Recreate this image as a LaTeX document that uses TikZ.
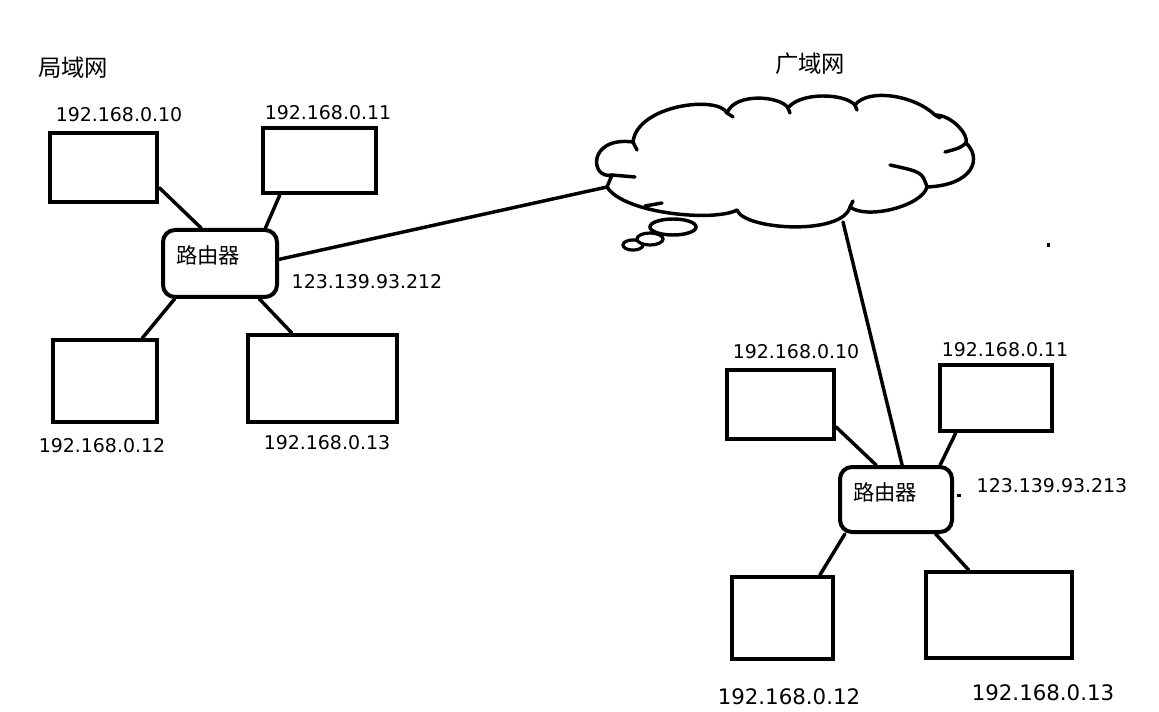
\documentclass[tikz,border=0pt]{standalone}
\usepackage{fontspec}
\setmainfont{DejaVu Sans}
\newfontfamily\cjk{Noto Sans CJK SC}
\usetikzlibrary{fit}
\tikzset{
  box/.style={draw, line width=3pt, inner sep=0pt},
  rtr/.style={draw, line width=3pt, rounded corners=9pt, inner sep=0pt},
  conn/.style={line width=2.6pt, line cap=round},
  cloudline/.style={line width=2.6pt, line cap=round, line join=round},
  ip/.style={inner sep=0pt, font=\fontsize{14.2}{17}\selectfont},
  ipbig/.style={inner sep=0pt, font=\fontsize{16}{19}\selectfont},
  zh/.style={inner sep=0pt, font=\cjk\fontsize{16}{19}\selectfont},
  zhtitle/.style={inner sep=0pt, font=\cjk\fontsize{17.5}{20}\selectfont},
}
\begin{document}
\begin{tikzpicture}[x=0.75pt,y=-0.75pt]
\useasboundingbox (0,0) rectangle (1159,712);
\fill[white] (0,0) rectangle (1159,712);

% titles
\node[zhtitle] (lan) at (73,68) {局域网};
\node[zhtitle] (wan) at (810,64) {广域网};

% left network
\node[box, line width=3.6pt, fit={(50,133) (157,202)}] (a) {};
\node[box, fit={(263,128) (376,193)}] (b) {};
\node[box, fit={(53,340) (157,422)}] (c) {};
\node[box, fit={(248,335) (397,422)}] (d) {};
\node[rtr, fit={(163,230) (277,297)}] (r1) {};
\node[zh] (r1t) at (208,255) {路由器};

\node[ip] (ipa) at (119,115) {192.168.0.10};
\node[ip] (ipb) at (328,113) {192.168.0.11};
\node[ip] (ipc) at (102,446) {192.168.0.12};
\node[ip] (ipd) at (327,443) {192.168.0.13};
\node[ip] (ipr1) at (367,282) {123.139.93.212};

\draw[conn] (a.-20) -- (r1.118);
\draw[conn] (b.221) -- (r1.38);
\draw[conn] (c.49) -- (r1.218);
\draw[conn] (d.124) -- (r1.-42);

% cloud
\coordinate (cl1) at (607,187);
\coordinate (cl2) at (843,222);
\draw[line width=2.4pt, fill=white] (633,245) ellipse [x radius=7.5pt, y radius=3.8pt];
\draw[line width=2.4pt, fill=white] (650,239) ellipse [x radius=9.8pt, y radius=4.5pt];
\draw[line width=2.6pt, fill=white] (673,227) ellipse [x radius=17.3pt, y radius=6pt];
\draw[cloudline, fill=white] (633,142)
 .. controls (637,105) and (718,95) .. (727,113)
 .. controls (735,92) and (781,96) .. (788,108)
 .. controls (800,92) and (844,93) .. (855,105)
 .. controls (868,88) and (914,95) .. (935,115)
 .. controls (952,115) and (969,135) .. (966,143)
 .. controls (982,158) and (974,185) .. (927,187)
 .. controls (922,206) and (867,220) .. (850,207)
 .. controls (842,236) and (744,230) .. (737,210)
 .. controls (715,222) and (624,214) .. (607,187)
 -- (612,175)
 .. controls (590,180) and (587,136) .. (633,142);
\draw[cloudline] (633,142) -- (637,150);
\draw[cloudline] (727,113) -- (733,117);
\draw[cloudline] (788,108) -- (790,113);
\draw[cloudline] (855,105) -- (857,110);
\draw[cloudline] (935,115) -- (940,118);
\draw[cloudline] (966,143) .. controls (960,148) .. (945,152);
\draw[cloudline] (927,187) .. controls (922,172) .. (890,165);
\draw[cloudline] (850,207) -- (853,201);
\draw[cloudline] (645,206) -- (662,203);
\draw[cloudline] (612,175) -- (635,177);

\draw[conn] (r1.4) -- (cl1);

% right network
\node[box, fit={(727,370) (834,439)}] (e) {};
\node[box, fit={(940,365) (1052,431)}] (f) {};
\node[box, fit={(732,577) (833,659)}] (g) {};
\node[box, fit={(926,572) (1072,658)}] (h) {};
\node[rtr, fit={(840,467) (952,532)}] (r2) {};
\node[zh] (r2t) at (885,492) {路由器};

\node[ip] (ipe) at (796,352) {192.168.0.10};
\node[ip] (ipf) at (1005,350) {192.168.0.11};
\node[ipbig] (ipg) at (789,697) {192.168.0.12};
\node[ipbig] (iph) at (1043,693) {192.168.0.13};
\node[ip] (ipr2) at (1052,486) {123.139.93.213};

\draw[conn] (e.-22) -- (r2.120);
\draw[conn] (f.221) -- (r2.38);
\draw[conn] (g.49) -- (r2.214);
\draw[conn] (h.124) -- (r2.-41);
\draw[conn] (cl2) -- (r2.80);

% stray marks
\fill (1046.5,243.5) rectangle (1050,247);
\fill (957,494) rectangle (961,497);
\end{tikzpicture}
\end{document}
